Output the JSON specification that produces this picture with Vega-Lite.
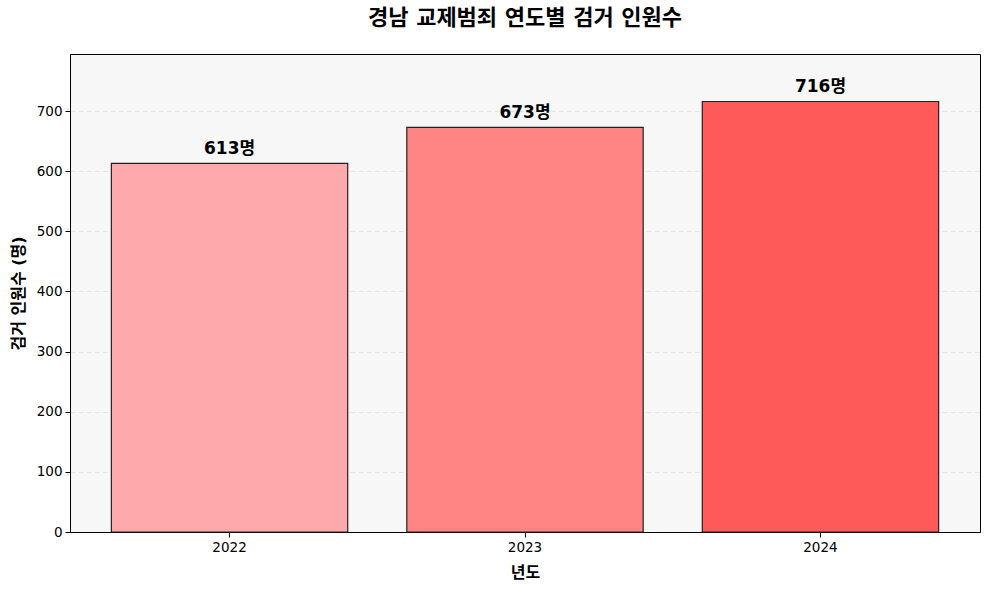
{
  "$schema": "https://vega.github.io/schema/vega-lite/v6.json",
  "autosize": {"type": "none"},
  "width": 910,
  "height": 478,
  "padding": {"left": 70, "top": 54, "right": 9, "bottom": 57},
  "background": "white",
  "title": {
    "text": "경남 교제범죄 연도별 검거 인원수",
    "fontSize": 22,
    "fontWeight": "bold",
    "font": "DejaVu Sans, Noto Sans CJK KR",
    "color": "black",
    "anchor": "middle",
    "offset": 24
  },
  "data": {
    "values": [
      {"year": "2022", "count": 613, "label": "613명"},
      {"year": "2023", "count": 673, "label": "673명"},
      {"year": "2024", "count": 716, "label": "716명"}
    ]
  },
  "encoding": {
    "x": {
      "field": "year",
      "type": "ordinal",
      "title": "년도",
      "scale": {"paddingInner": 0.2, "paddingOuter": 0.14},
      "axis": {"labelAngle": 0, "titlePadding": 11}
    },
    "y": {
      "field": "count",
      "type": "quantitative",
      "title": "검거 인원수 (명)",
      "scale": {"domain": [0, 795], "nice": false},
      "axis": {"values": [0, 100, 200, 300, 400, 500, 600, 700], "titlePadding": 10}
    }
  },
  "layer": [
    {
      "mark": {"type": "bar", "stroke": "#222222", "strokeWidth": 1.2},
      "encoding": {
        "color": {
          "field": "year",
          "type": "ordinal",
          "scale": {"range": ["#feaaac", "#ff8484", "#ff5a5a"]},
          "legend": null
        }
      }
    },
    {
      "mark": {
        "type": "text",
        "dy": -5,
        "baseline": "bottom",
        "fontSize": 17,
        "fontWeight": "bold",
        "font": "DejaVu Sans, Noto Sans CJK KR",
        "color": "black"
      },
      "encoding": {"text": {"field": "label"}}
    }
  ],
  "config": {
    "view": {"fill": "#f7f7f7", "stroke": "black", "strokeWidth": 1},
    "axis": {
      "domainColor": "black",
      "tickColor": "black",
      "tickSize": 5,
      "labelColor": "black",
      "labelFont": "DejaVu Sans, Noto Sans CJK KR",
      "labelFontSize": 13.5,
      "labelPadding": 3,
      "titleFont": "DejaVu Sans, Noto Sans CJK KR",
      "titleFontSize": 16,
      "titleFontWeight": "bold",
      "titleColor": "black",
      "grid": false
    },
    "axisY": {
      "grid": true,
      "gridColor": "#cccccc",
      "gridOpacity": 0.6,
      "gridDash": [5, 3],
      "gridWidth": 0.8
    },
    "axisX": {"grid": false}
  }
}
